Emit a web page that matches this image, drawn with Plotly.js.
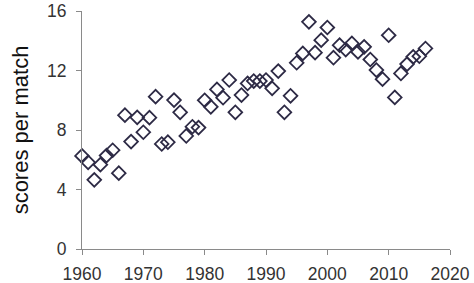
<!DOCTYPE html>
<html>
<head>
<meta charset="utf-8">
<script src="https://cdn.plot.ly/plotly-3.0.1.min.js"></script>
<style>html,body{margin:0;padding:0;background:#fff;}#chart{width:474px;height:283px;}</style>
</head>
<body>
<div id="chart"></div>
<script>
const years = [1960,1961,1962,1963,1964,1965,1966,1967,1968,1969,1970,1971,1972,1973,1974,1975,1976,1977,1978,1979,1980,1981,1982,1983,1984,1985,1986,1987,1988,1989,1990,1991,1992,1993,1994,1995,1996,1997,1998,1999,2000,2001,2002,2003,2004,2005,2006,2007,2008,2009,2010,2011,2012,2013,2014,2015,2016];
const scores = [6.26,5.83,4.65,5.67,6.28,6.64,5.1,9.0,7.22,8.85,7.85,8.83,10.24,7.06,7.18,10.01,9.19,7.6,8.22,8.16,10.0,9.56,10.73,10.17,11.36,9.19,10.35,11.13,11.29,11.29,11.36,10.8,11.96,9.19,10.3,12.52,13.15,15.27,13.2,14.04,14.89,12.86,13.7,13.41,13.82,13.25,13.59,12.74,12.03,11.42,14.37,10.19,11.8,12.43,12.92,12.96,13.48];
const xTicks = [1960,1970,1980,1990,2000,2010,2020];
const yTicks = [0,4,8,12,16];
const yTitle = "scores per match";

const trace = {
  x: years, y: scores, type: 'scatter', mode: 'markers',
  marker: {symbol: 'diamond-open', size: 10.5, color: '#2d2a45', line: {width: 1.8, color: '#2d2a45'}},
  cliponaxis: false, hoverinfo: 'skip'
};
const axisCommon = {
  showgrid: false, zeroline: false, showline: true, linecolor: '#8a8a8a', linewidth: 1,
  ticks: 'outside', ticklen: 5, tickcolor: '#8a8a8a', tickwidth: 1,
  tickfont: {family: 'Liberation Sans, Arial, sans-serif', size: 17.5, color: '#333'}
};
const layout = {
  width: 474, height: 283,
  margin: {l: 82, r: 24, t: 11, b: 34},
  paper_bgcolor: '#fff', plot_bgcolor: '#fff', showlegend: false,
  xaxis: Object.assign({}, axisCommon, {range: [1960, 2020], tickvals: xTicks, ticktext: xTicks.map(String), ticklabelstandoff: 4}),
  yaxis: Object.assign({}, axisCommon, {range: [0, 16], tickvals: yTicks, ticktext: yTicks.map(String), ticklabelstandoff: 6,
    title: {text: yTitle, standoff: 12, font: {family: 'Liberation Sans, Arial, sans-serif', size: 22, color: '#111'}}})
};
Plotly.newPlot('chart', [trace], layout, {staticPlot: true, displayModeBar: false});
</script>
</body>
</html>
